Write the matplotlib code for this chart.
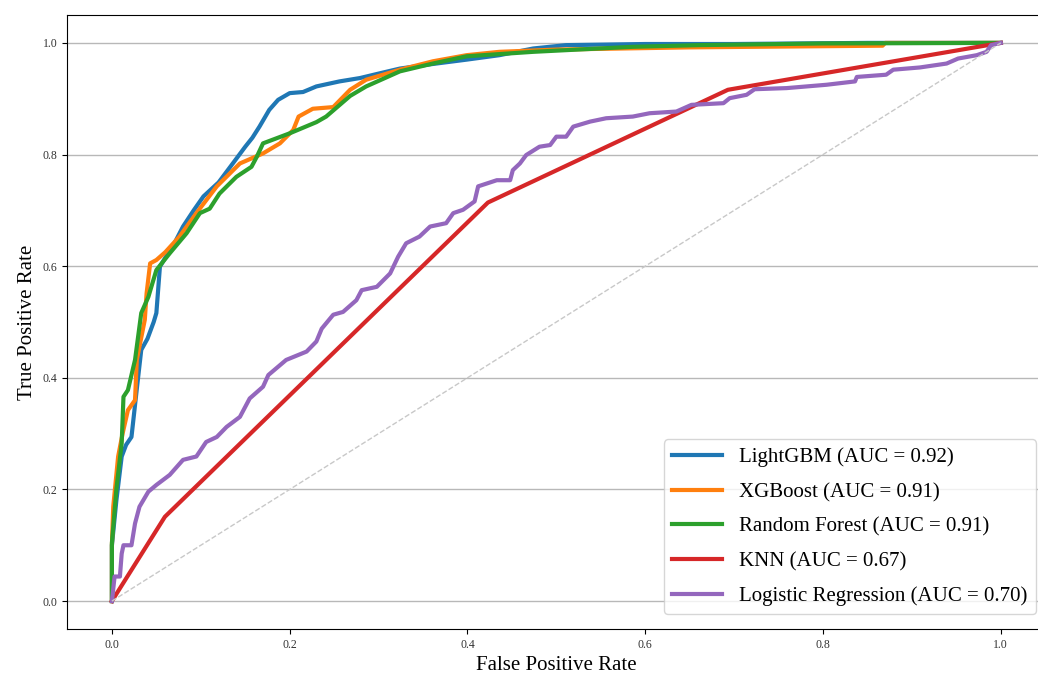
import numpy as np
import matplotlib.pyplot as plt

plt.rcParams['font.family'] = ['Liberation Serif', 'DejaVu Serif']

# ==========================================
# Dados (ROC)
# ==========================================
lgbm_fpr = [0.0, 0.0, 0.005, 0.011, 0.016, 0.022, 0.028, 0.033, 0.040, 0.047, 0.050,
            0.054, 0.060, 0.070, 0.080, 0.092, 0.103, 0.120, 0.136, 0.150, 0.158,
            0.166, 0.177, 0.187, 0.200, 0.215, 0.230, 0.256, 0.279, 0.300, 0.324,
            0.360, 0.399, 0.436, 0.474, 0.511, 0.600, 0.700, 0.850, 1.0]
lgbm_tpr = [0.0, 0.10, 0.18, 0.259, 0.28, 0.294, 0.38, 0.45, 0.47, 0.50, 0.516,
            0.599, 0.615, 0.640, 0.671, 0.700, 0.725, 0.750, 0.784, 0.814, 0.830,
            0.850, 0.880, 0.898, 0.910, 0.912, 0.922, 0.931, 0.937, 0.945, 0.954,
            0.962, 0.970, 0.978, 0.990, 0.996, 0.998, 0.998, 1.0, 1.0]

xgb_fpr = [0.0, 0.0, 0.0015, 0.007, 0.012, 0.018, 0.026, 0.028, 0.037, 0.039,
           0.043, 0.050, 0.060, 0.076, 0.095, 0.118, 0.144, 0.170, 0.189, 0.204,
           0.210, 0.226, 0.249, 0.268, 0.286, 0.324, 0.361, 0.399, 0.436, 0.500,
           0.650, 0.867, 0.870, 1.0]
xgb_tpr = [0.0, 0.10, 0.169, 0.259, 0.30, 0.342, 0.360, 0.432, 0.504, 0.551,
           0.605, 0.611, 0.625, 0.653, 0.695, 0.743, 0.784, 0.802, 0.820, 0.844,
           0.868, 0.882, 0.885, 0.916, 0.934, 0.952, 0.967, 0.978, 0.984, 0.988,
           0.992, 0.995, 1.0, 1.0]

rf_fpr = [0.0, 0.0, 0.005, 0.011, 0.013, 0.018, 0.026, 0.033, 0.041, 0.050, 0.065,
          0.084, 0.099, 0.110, 0.121, 0.140, 0.157, 0.163, 0.170, 0.200, 0.230,
          0.241, 0.268, 0.286, 0.324, 0.361, 0.399, 0.474, 0.511, 0.586, 0.661,
          0.800, 1.0]
rf_tpr = [0.0, 0.104, 0.20, 0.283, 0.366, 0.378, 0.432, 0.516, 0.545, 0.593, 0.623,
          0.659, 0.695, 0.703, 0.730, 0.760, 0.778, 0.796, 0.820, 0.838, 0.858,
          0.868, 0.905, 0.922, 0.949, 0.963, 0.976, 0.984, 0.987, 0.993, 0.996,
          0.999, 1.0]

knn_fpr = [0.0, 0.0596, 0.423, 0.693, 1.0]
knn_tpr = [0.0, 0.151, 0.714, 0.916, 1.0]

lr_fpr = [0.0, 0.003, 0.009, 0.011, 0.013, 0.022, 0.026, 0.031, 0.041, 0.050,
          0.065, 0.080, 0.095, 0.106, 0.118, 0.129, 0.144, 0.155, 0.170, 0.176,
          0.196, 0.219, 0.230, 0.236, 0.249, 0.260, 0.275, 0.281, 0.298, 0.313,
          0.322, 0.331, 0.346, 0.358, 0.376, 0.384, 0.395, 0.408, 0.412, 0.433,
          0.448, 0.451, 0.459, 0.466, 0.481, 0.493, 0.500, 0.511, 0.519, 0.538,
          0.556, 0.586, 0.605, 0.635, 0.652, 0.688, 0.695, 0.714, 0.723, 0.759,
          0.804, 0.836, 0.838, 0.871, 0.879, 0.909, 0.939, 0.952, 0.973, 0.984,
          0.989, 1.0]
lr_tpr = [0.0, 0.044, 0.044, 0.085, 0.100, 0.100, 0.139, 0.169, 0.196, 0.208,
          0.226, 0.253, 0.259, 0.285, 0.294, 0.312, 0.330, 0.363, 0.384, 0.405,
          0.432, 0.447, 0.465, 0.488, 0.513, 0.518, 0.539, 0.557, 0.563, 0.587,
          0.617, 0.641, 0.653, 0.671, 0.677, 0.695, 0.701, 0.716, 0.743, 0.754,
          0.754, 0.772, 0.784, 0.799, 0.814, 0.817, 0.832, 0.832, 0.850, 0.859,
          0.865, 0.868, 0.874, 0.877, 0.889, 0.892, 0.901, 0.907, 0.917, 0.919,
          0.925, 0.931, 0.939, 0.943, 0.952, 0.956, 0.963, 0.972, 0.978, 0.984,
          0.996, 1.0]

curvas = [
    ('LightGBM (AUC = 0.92)', lgbm_fpr, lgbm_tpr, '#1f77b4'),
    ('XGBoost (AUC = 0.91)', xgb_fpr, xgb_tpr, '#ff7f0e'),
    ('Random Forest (AUC = 0.91)', rf_fpr, rf_tpr, '#2ca02c'),
    ('KNN (AUC = 0.67)', knn_fpr, knn_tpr, '#d62728'),
    ('Logistic Regression (AUC = 0.70)', lr_fpr, lr_tpr, '#9467bd'),
]

# ==========================================
# Gráfico
# ==========================================
fig = plt.figure(figsize=(10.38, 6.78), dpi=100)
ax = fig.add_axes([0.065, 0.0723, 0.942, 0.9056])

for nome, fpr, tpr, cor in curvas:
    ax.plot(fpr, tpr, color=cor, lw=3, label=nome)

ax.plot([0, 1], [0, 1], '--', color='#c8c8c8', lw=1)

ax.set_xlim(-0.05, 1.05)
ax.set_ylim(-0.05, 1.05)
ax.yaxis.grid(True, color='#b8b8b8', lw=1)
ax.set_axisbelow(True)
ax.tick_params(labelsize=8.5, labelcolor='#333333')
ax.set_xlabel('False Positive Rate', fontsize=15, labelpad=4)
ax.set_ylabel('True Positive Rate', fontsize=15)
ax.legend(loc='lower right', fontsize=15, handlelength=2.4, labelspacing=0.72,
          bbox_to_anchor=(1.001, 0.007))

fig.savefig('out.png', dpi=100)
